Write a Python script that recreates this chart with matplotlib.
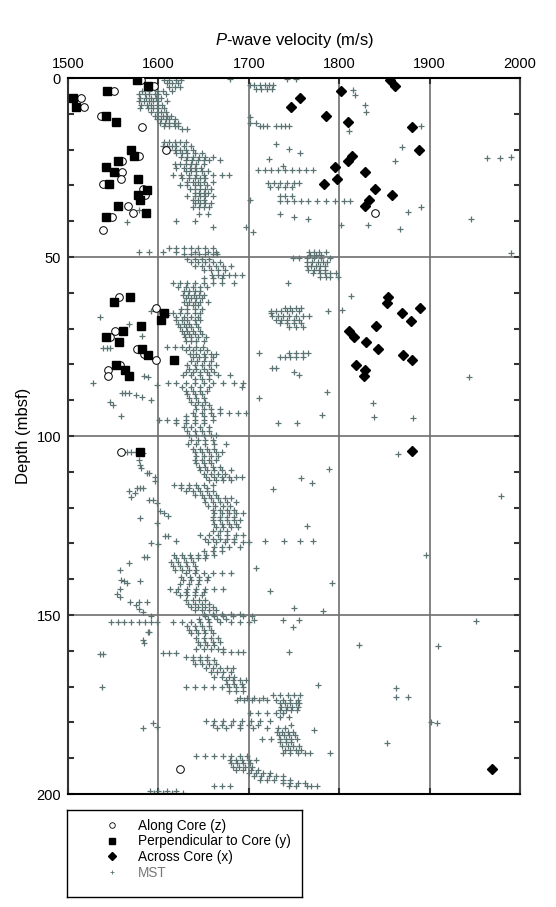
import numpy as np
import matplotlib
import matplotlib.pyplot as plt
from matplotlib.ticker import MultipleLocator
from matplotlib.lines import Line2D

matplotlib.rcParams['font.family'] = 'Liberation Sans'
matplotlib.rcParams['mathtext.fontset'] = 'custom'
matplotlib.rcParams['mathtext.it'] = 'Liberation Sans:italic'
matplotlib.rcParams['mathtext.rm'] = 'Liberation Sans'

# ---------------- data ----------------
# discrete measurements (velocity m/s, depth mbsf)
along_v = [1581, 1595, 1551, 1514, 1518, 1537, 1582, 1608, 1578, 1560, 1560, 1559, 1539, 1583,
           1585, 1566, 1572, 1549, 1539, 1840,
           1556, 1597, 1552, 1546, 1576, 1584, 1597, 1557, 1544, 1544, 1559, 1624]
along_d = [0.6, 2.1, 3.7, 5.6, 8.2, 10.6, 13.6, 20.1, 21.8, 23.3, 26.3, 28.2, 29.7, 31.1,
           32.7, 35.7, 37.7, 38.7, 42.5, 37.8,
           61.3, 64.3, 70.8, 72.3, 75.7, 77.2, 78.8, 80.3, 81.7, 83.2, 104.4, 193.0]

perp_v = [1576, 1589, 1543, 1505, 1509, 1542, 1553, 1570, 1573, 1555, 1542, 1551, 1577, 1545,
          1587, 1577, 1580, 1555, 1586, 1542,
          1569, 1551, 1606, 1603, 1581, 1561, 1542, 1556, 1582, 1588, 1617, 1553, 1563, 1567, 1580]
perp_d = [0.6, 2.1, 3.6, 5.6, 8.0, 10.6, 12.2, 20.2, 21.7, 23.2, 24.8, 26.3, 28.2, 29.7,
          31.2, 32.7, 34.2, 35.7, 37.7, 38.7,
          61.3, 62.7, 65.7, 67.7, 69.2, 70.8, 72.4, 73.7, 75.7, 77.3, 78.8, 80.3, 81.7, 83.2, 104.4]

across_v = [1856, 1862, 1802, 1757, 1747, 1785, 1810, 1881, 1888, 1814, 1810, 1795, 1828, 1798,
            1783, 1840, 1858, 1833, 1828,
            1854, 1853, 1889, 1869, 1879, 1841, 1811, 1816, 1830, 1843, 1871, 1881, 1819, 1828,
            1827, 1880, 1969]
across_d = [0.6, 2.1, 3.6, 5.5, 8.1, 10.6, 12.2, 13.7, 20.2, 21.7, 23.2, 24.8, 26.3, 28.3,
            29.7, 31.1, 32.7, 34.2, 35.7,
            61.1, 62.8, 64.3, 65.7, 67.8, 69.2, 70.8, 72.3, 73.7, 75.8, 77.3, 78.8, 80.3, 81.7,
            83.2, 104.3, 193.0]

# MST log: rows of (depth, velocities seen at that depth)
mst_rows = [
    (0.5, [1606, 1612, 1620, 1625]), (1.5, [1610, 1615, 1622]), (2.5, [1612, 1618, 1624]),
    (3.5, [1582, 1590, 1598, 1605, 1615]), (4.5, [1578, 1585, 1590, 1596, 1600, 1608]),
    (5.5, [1580, 1586, 1592, 1597, 1603]), (6.5, [1579, 1584, 1590, 1594, 1600, 1610]),
    (7.5, [1581, 1587, 1592, 1598, 1604]), (8.5, [1580, 1588, 1594, 1600, 1606]),
    (9.5, [1592, 1598, 1603, 1608]), (10.5, [1596, 1600, 1605, 1610, 1614]),
    (11.5, [1598, 1603, 1608, 1612, 1618]), (12.5, [1602, 1607, 1612, 1617, 1622]),
    (13.5, [1606, 1612, 1618, 1622]), (14.2, [1626, 1632]),
    (18.0, [1606, 1612, 1618, 1624, 1630]), (19.0, [1605, 1610, 1615, 1620, 1628, 1636]),
    (20.0, [1612, 1618, 1624, 1630, 1638]), (21.0, [1620, 1626, 1632, 1640, 1648]),
    (22.0, [1625, 1632, 1638, 1645, 1652, 1660]), (23.0, [1630, 1637, 1644, 1650, 1656, 1668]),
    (24.0, [1618, 1624, 1630, 1636, 1642, 1650]), (25.0, [1620, 1628, 1635, 1640, 1647]),
    (26.0, [1630, 1636, 1642, 1648, 1655]), (27.0, [1616, 1625, 1634, 1642, 1650, 1660, 1670, 1678]),
    (28.0, [1626, 1634, 1640, 1646, 1652]), (29.0, [1632, 1638, 1644, 1650, 1660]),
    (30.0, [1624, 1632, 1640, 1646, 1654]), (31.0, [1635, 1641, 1646, 1652, 1658]),
    (32.0, [1640, 1645, 1650, 1655]), (33.0, [1632, 1640, 1646, 1652, 1660]),
    (34.0, [1638, 1644, 1650]), (35.0, [1640, 1646, 1652, 1658]), (36.0, [1638, 1645, 1650, 1656]),
    (38.0, [1645, 1655]), (40.0, [1620, 1640]), (41.5, [1660, 1697]),
    (47.5, [1612, 1620, 1628, 1636, 1644, 1652, 1660]), (48.5, [1605, 1620, 1640, 1655, 1664]),
    (49.3, [1628, 1636, 1645, 1652, 1660, 1665]), (50.5, [1632, 1640, 1648, 1656]),
    (51.5, [1636, 1644, 1652, 1660, 1668]), (52.5, [1640, 1648, 1656, 1664, 1672, 1680]),
    (53.5, [1650, 1658, 1666, 1674]), (55.0, [1659, 1666, 1672, 1678, 1685, 1692]),
    (56.0, [1650, 1660, 1670]), (57.4, [1616, 1624, 1632, 1640, 1650, 1660, 1670, 1684]),
    (58.5, [1622, 1630, 1638, 1646, 1654]), (59.5, [1628, 1634, 1640, 1646]),
    (60.5, [1627, 1633, 1639, 1645, 1650]), (61.5, [1630, 1636, 1642, 1648]),
    (62.5, [1628, 1634, 1640, 1646, 1655]), (63.5, [1632, 1638, 1644]),
    (64.5, [1625, 1632, 1640, 1648]), (65.7, [1609, 1616, 1624, 1632, 1640, 1646]),
    (66.7, [1620, 1628, 1636, 1644]), (67.6, [1620, 1626, 1632, 1640, 1646]),
    (68.6, [1622, 1628, 1634, 1642]), (69.6, [1624, 1630, 1636, 1644]),
    (70.6, [1626, 1632, 1638, 1646]), (71.5, [1628, 1634, 1640, 1648]),
    (72.4, [1629, 1636, 1644, 1653]), (73.5, [1630, 1636, 1642, 1650]),
    (75.0, [1609, 1618, 1626, 1634, 1642, 1649]), (76.0, [1630, 1638, 1646, 1654]),
    (77.0, [1635, 1642, 1650, 1658, 1664]), (78.0, [1638, 1645, 1652, 1660]),
    (79.0, [1636, 1643, 1650, 1658]), (80.2, [1632, 1640, 1648, 1656, 1664]),
    (81.2, [1634, 1642, 1650, 1658]), (82.2, [1630, 1638, 1646, 1654, 1662]),
    (83.0, [1627, 1636, 1646, 1656, 1666, 1679]), (84.2, [1640, 1648, 1656]),
    (85.3, [1611, 1620, 1630, 1640, 1650, 1660, 1672, 1684, 1694]),
    (86.3, [1626, 1636, 1646, 1656]), (87.4, [1630, 1638, 1646, 1654]),
    (88.4, [1632, 1640, 1648]), (89.4, [1634, 1642, 1650]), (90.4, [1636, 1644, 1652]),
    (91.4, [1640, 1648, 1656]), (92.5, [1642, 1650, 1658, 1668]),
    (93.6, [1638, 1648, 1658, 1668, 1678, 1688, 1697]), (94.5, [1630, 1640, 1650, 1660]),
    (95.5, [1601, 1610, 1620, 1630, 1640, 1650, 1660]), (96.5, [1620, 1630, 1640, 1650]),
    (97.4, [1628, 1636, 1646, 1656]), (98.6, [1632, 1640, 1648, 1656]),
    (99.8, [1634, 1642, 1650, 1658, 1664]), (101.0, [1636, 1644, 1652, 1660]),
    (102.2, [1633, 1642, 1652, 1662, 1675]), (103.5, [1638, 1646, 1654, 1662]),
    (104.5, [1640, 1648, 1656, 1664, 1670]), (105.5, [1642, 1650, 1658, 1666]),
    (106.6, [1640, 1648, 1656, 1664]), (107.6, [1642, 1650, 1658]),
    (108.6, [1645, 1652, 1660, 1668]), (109.5, [1646, 1654, 1662, 1670, 1680]),
    (110.5, [1650, 1658, 1666, 1674]), (111.4, [1653, 1662, 1670, 1678, 1686, 1692]),
    (112.3, [1656, 1664, 1672, 1680]), (113.7, [1617, 1625, 1634, 1642, 1650, 1660]),
    (114.6, [1625, 1634, 1644, 1654]), (115.5, [1630, 1638, 1646, 1654, 1660]),
    (116.5, [1640, 1648, 1656, 1664]), (117.4, [1650, 1658, 1666, 1674, 1680]),
    (118.4, [1652, 1660, 1668, 1676, 1686]), (119.5, [1655, 1663, 1671, 1679]),
    (120.7, [1660, 1668, 1676, 1684]), (121.6, [1661, 1670, 1678, 1686, 1694]),
    (122.6, [1660, 1668, 1676, 1684]), (123.5, [1660, 1668, 1676, 1684, 1690]),
    (124.5, [1662, 1670, 1678, 1686]), (125.3, [1664, 1672, 1680, 1688]),
    (126.5, [1660, 1668, 1676]), (127.7, [1646, 1656, 1666, 1676, 1686, 1694]),
    (128.7, [1652, 1660, 1668, 1676, 1684]), (129.7, [1655, 1664, 1674, 1684, 1694, 1700]),
    (130.9, [1662, 1670, 1678, 1690]), (132.0, [1650, 1660, 1670]),
    (133.3, [1617, 1626, 1635, 1644, 1653, 1661]), (134.2, [1620, 1628, 1636, 1644, 1652]),
    (135.3, [1614, 1622, 1630, 1638]), (136.3, [1616, 1624, 1632, 1640]),
    (137.4, [1618, 1626, 1634, 1642]), (138.4, [1630, 1640, 1650, 1660, 1670, 1680]),
    (139.3, [1625, 1635, 1645, 1655]), (140.2, [1627, 1636, 1645, 1654]),
    (141.3, [1624, 1634, 1644]), (142.6, [1613, 1622, 1632, 1642, 1652, 1662, 1672]),
    (143.6, [1620, 1630, 1640, 1650]), (144.5, [1624, 1632, 1640, 1648]),
    (145.8, [1631, 1638, 1645, 1652]), (146.8, [1633, 1640, 1648, 1656]),
    (147.7, [1636, 1644, 1652, 1660]), (148.6, [1640, 1648, 1656, 1664]),
    (149.6, [1650, 1660, 1670, 1680, 1690]), (150.4, [1652, 1662, 1672, 1682, 1694, 1703]),
    (151.2, [1645, 1655, 1665, 1675]),
    (152.0, [1616, 1626, 1636, 1646, 1656, 1668, 1680, 1690, 1700]),
    (153.0, [1632, 1640, 1648, 1656]), (154.2, [1634, 1642, 1650, 1658]),
    (155.1, [1636, 1644, 1652, 1660]), (156.5, [1642, 1650, 1658, 1666]),
    (157.5, [1644, 1652, 1660, 1668]), (158.5, [1646, 1654, 1662]),
    (159.5, [1642, 1650, 1658, 1666, 1672]), (160.2, [1672, 1680, 1688, 1694]),
    (161.6, [1630, 1638, 1646, 1654]), (162.6, [1638, 1646, 1654, 1661]),
    (163.6, [1640, 1648, 1656, 1664]), (164.9, [1653, 1660, 1668, 1676, 1683]),
    (166.0, [1658, 1665, 1672, 1680]), (167.2, [1662, 1670, 1678, 1684]),
    (168.2, [1675, 1682, 1690, 1697]), (169.2, [1676, 1684, 1692]),
    (170.2, [1631, 1640, 1650, 1660, 1670, 1678, 1686, 1694]), (171.2, [1678, 1686, 1694]),
    (172.3, [1727, 1735, 1743, 1750, 1757]), (173.3, [1690, 1698, 1706, 1716]),
    (173.8, [1687, 1695, 1703, 1711, 1720, 1730, 1738, 1746, 1754]),
    (174.7, [1734, 1740, 1746, 1752, 1756]), (175.6, [1736, 1742, 1748, 1754]),
    (176.5, [1735, 1741, 1747, 1753]), (177.4, [1701, 1710, 1720, 1730, 1738]),
    (178.4, [1735, 1745]),
    (179.6, [1653, 1662, 1672, 1682, 1692, 1702, 1712, 1723]),
    (180.7, [1660, 1670, 1680, 1690, 1700, 1710, 1747]),
    (181.6, [1665, 1675, 1690, 1705, 1720, 1732, 1740]), (182.6, [1731, 1737, 1743, 1749]),
    (183.6, [1733, 1739, 1745, 1751]), (184.6, [1715, 1725, 1735, 1741, 1747, 1753]),
    (185.6, [1735, 1741, 1747]), (186.6, [1737, 1743, 1749, 1755]),
    (187.7, [1740, 1746, 1752, 1758]), (188.6, [1738, 1746, 1754, 1762, 1768]),
    (189.5, [1642, 1652, 1662, 1672, 1680, 1690, 1698]),
    (190.4, [1679, 1686, 1693, 1700, 1708]), (191.4, [1680, 1687, 1694, 1701]),
    (192.4, [1682, 1689, 1696, 1704]), (193.4, [1686, 1694, 1702, 1710]),
    (194.2, [1700, 1708, 1716, 1724]), (195.1, [1706, 1714, 1722, 1730, 1738]),
    (196.0, [1712, 1720, 1728, 1738, 1746]), (196.9, [1738, 1746, 1754, 1762]),
    (197.8, [1662, 1670, 1679, 1744, 1752, 1764]), (199.2, [1591, 1600, 1610, 1620]),
    (199.8, [1595, 1605, 1615, 1627]),
    # faster intervals between 1700 and 1800 m/s
    (2.0, [1701, 1706, 1712, 1718, 1722, 1727]), (3.0, [1708, 1714, 1720, 1726]),
    (12.5, [1701, 1708]), (13.3, [1712, 1716, 1720, 1730, 1736, 1740, 1745]),
    (25.7, [1710, 1718, 1725, 1732, 1740, 1748, 1755, 1763, 1771]),
    (29.4, [1721, 1728, 1735, 1742, 1750, 1756]), (30.4, [1724, 1732, 1740, 1748]),
    (33.0, [1734, 1740, 1748]),
    (34.3, [1734, 1742, 1750, 1758, 1766, 1775, 1785, 1795, 1805, 1812]),
    (48.5, [1767, 1772, 1778, 1785]), (49.5, [1768, 1774, 1780]),
    (50.3, [1749, 1756, 1764, 1772, 1780, 1790]), (51.5, [1764, 1770, 1776, 1782, 1786]),
    (52.5, [1764, 1769, 1774, 1779, 1784]), (53.5, [1766, 1772, 1778, 1784]),
    (54.5, [1771, 1779, 1784, 1790, 1796]), (55.5, [1779, 1785, 1790, 1799]),
    (64.3, [1740, 1746, 1752, 1758]), (65.2, [1725, 1730, 1736, 1742, 1748, 1755]),
    (66.5, [1726, 1732, 1738, 1745, 1752, 1760, 1767]), (67.5, [1730, 1736, 1742, 1750, 1756]),
    (68.5, [1735, 1742, 1750, 1758]), (69.5, [1745, 1752, 1760]),
    (76.9, [1745, 1752, 1760, 1766]), (78.0, [1734, 1740, 1746, 1752, 1760]),
]

# scattered single MST readings
mst_iso_v = [1565, 1578, 1578, 1590, 1535, 1568, 1582, 1539, 1543, 1546, 1588, 1584, 1528, 1598,
             1560, 1563, 1567, 1575, 1582, 1592, 1546, 1550, 1559, 1592, 1601, 1610,
             1565, 1570, 1575, 1583, 1579, 1580, 1581, 1587, 1590, 1596, 1596, 1576, 1580, 1583,
             1568, 1574, 1570, 1590, 1594, 1598, 1602, 1606, 1611, 1580, 1598, 1607, 1611, 1619,
             1592, 1600, 1584, 1587, 1567, 1557, 1559, 1562, 1565, 1580, 1557, 1554, 1558, 1569,
             1578, 1587, 1575, 1579, 1583, 1592, 1548, 1555, 1562, 1570, 1578, 1585, 1592, 1598,
             1588, 1590, 1583, 1584, 1535, 1539, 1605, 1612, 1620, 1538, 1594, 1598, 1583,
             1679, 1742, 1752, 1815, 1817, 1829, 1830, 1811, 1891, 1870, 1862, 1890, 1876, 1832,
             1867, 1802, 1964, 1978, 1990, 1946, 1990, 1701, 1730, 1745, 1757, 1722, 1738, 1701,
             1735, 1750, 1765, 1705, 1743, 1788, 1803, 1813, 1944, 1692, 1711, 1786, 1837, 1838,
             1882, 1781, 1732, 1753, 1725, 1726, 1730, 1711, 1750, 1755, 1865, 1789, 1758, 1770,
             1727, 1979, 1764, 1718, 1739, 1757, 1771, 1896, 1708, 1792, 1724, 1750, 1782, 1706,
             1738, 1756, 1951, 1749, 1822, 1909, 1744, 1776, 1863, 1863, 1876, 1908, 1902, 1772,
             1853, 1790, 1769, 1775]
mst_iso_d = [40.1, 36.9, 48.6, 48.7, 66.7, 68.7, 72.2, 75.5, 75.5, 75.5, 83.4, 83.3, 85.3, 85.8,
             88.0, 88.0, 88.0, 88.5, 89.0, 89.9, 90.4, 91.3, 94.4, 65.0, 65.0, 66.2,
             104.6, 104.6, 104.6, 104.8, 106.7, 108.0, 109.0, 110.4, 110.4, 111.4, 112.7, 114.6,
             114.6, 114.6, 115.5, 116.0, 116.9, 117.9, 118.0, 118.8, 121.0, 121.5, 122.4, 123.0,
             124.4, 127.9, 127.9, 129.2, 129.8, 130.2, 133.7, 133.7, 135.6, 137.4, 140.2, 140.6,
             141.1, 140.4, 142.6, 144.2, 145.0, 146.3, 146.3, 146.3, 147.2, 148.2, 149.1, 150.4,
             152.0, 152.0, 152.0, 152.0, 152.0, 152.0, 152.0, 152.0, 154.7, 154.7, 157.0, 157.8,
             161.0, 161.0, 160.7, 160.7, 160.7, 170.2, 180.3, 181.2, 181.5,
             0.3, 0.3, 0.3, 3.4, 4.8, 7.5, 9.5, 14.8, 13.4, 19.2, 23.1, 36.1, 37.3, 41.1,
             42.3, 41.1, 22.4, 22.4, 22.2, 39.3, 49.0, 11.0, 18.5, 19.9, 21.0, 22.5, 24.5, 34.0,
             38.0, 38.8, 39.5, 43.0, 57.4, 65.0, 64.8, 60.9, 83.4, 86.2, 89.5, 87.6, 90.7, 94.6,
             95.1, 94.0, 96.3, 96.3, 65.7, 81.1, 81.1, 76.9, 82.0, 83.0, 105.0, 109.3, 111.8, 113.2,
             114.9, 116.7, 125.1, 129.2, 129.2, 129.2, 129.2, 133.3, 137.0, 141.2, 143.3, 148.1,
             148.9, 151.4, 151.4, 151.4, 151.6, 153.3, 158.4, 158.7, 160.2, 169.5, 170.5, 172.8,
             172.8, 180.2, 180.0, 182.1, 185.8, 188.6, 197.8, 197.8]

mst_v = [v for d, vs in mst_rows for v in vs] + mst_iso_v
mst_d = [d for d, vs in mst_rows for v in vs] + mst_iso_d

# ---------------- plot ----------------
fig = plt.figure(figsize=(5.56, 9.07), dpi=100)
ax = fig.add_axes([68/556, 1-794/907, 452/556, 716/907])

mst_col = "#5c7373"
ax.plot(mst_v, mst_d, "+", color=mst_col, ms=5, mew=0.9, zorder=2)
ax.plot(along_v, along_d, "o", mfc="white", mec="black", ms=5.5, mew=0.7, zorder=3)
ax.plot(perp_v, perp_d, "s", color="black", ms=5.2, zorder=4)
ax.plot(across_v, across_d, "D", color="black", ms=4.8, zorder=5)

ax.set_xlim(1500, 2000)
ax.set_ylim(200, 0)
ax.set_xticks([1500, 1600, 1700, 1800, 1900, 2000])
ax.set_yticks([0, 50, 100, 150, 200])
ax.yaxis.set_minor_locator(MultipleLocator(10))
ax.grid(True, which="major", color="#6e6e6e", lw=1.2)
ax.set_axisbelow(True)

ax.xaxis.tick_top()
ax.xaxis.set_label_position("top")
ax.tick_params(which="both", direction="in", top=True, bottom=True, left=True, right=True,
               labeltop=True, labelbottom=False, labelsize=10.5, width=1.5, color="#333333")
ax.tick_params(which="major", length=4, pad=5)
ax.tick_params(which="minor", length=4)
for s in ax.spines.values():
    s.set_linewidth(1.5)
ax.spines["left"].set_color("#333333")
ax.spines["right"].set_color("#444444")

ax.set_xlabel(r"$P$-wave velocity (m/s)", fontsize=12, labelpad=9)
ax.set_ylabel("Depth (mbsf)", fontsize=12, labelpad=4)

# legend in its own framed box below the plot
lax = fig.add_axes([67/556, 1-897/907, 235/556, 87/907])
lax.set_xticks([])
lax.set_yticks([])
for s in lax.spines.values():
    s.set_linewidth(1.0)
    s.set_color("black")
handles = [
    Line2D([], [], ls="none", marker="o", mfc="white", mec="black", ms=4, mew=0.6),
    Line2D([], [], ls="none", marker="s", color="black", ms=5),
    Line2D([], [], ls="none", marker="D", color="black", ms=4),
    Line2D([], [], ls="none", marker="+", color=mst_col, ms=3.5, mew=0.6),
]
labels = ["Along Core (z)", "Perpendicular to Core (y)", "Across Core (x)", "MST"]
leg = lax.legend(handles, labels, loc="upper left", bbox_to_anchor=(0.11, 1.04), frameon=False,
                 fontsize=9.8, handlelength=1.0, handletextpad=1.4, labelspacing=0.12)
leg.get_texts()[3].set_color("#777777")

plt.savefig("out.png", dpi=100)
